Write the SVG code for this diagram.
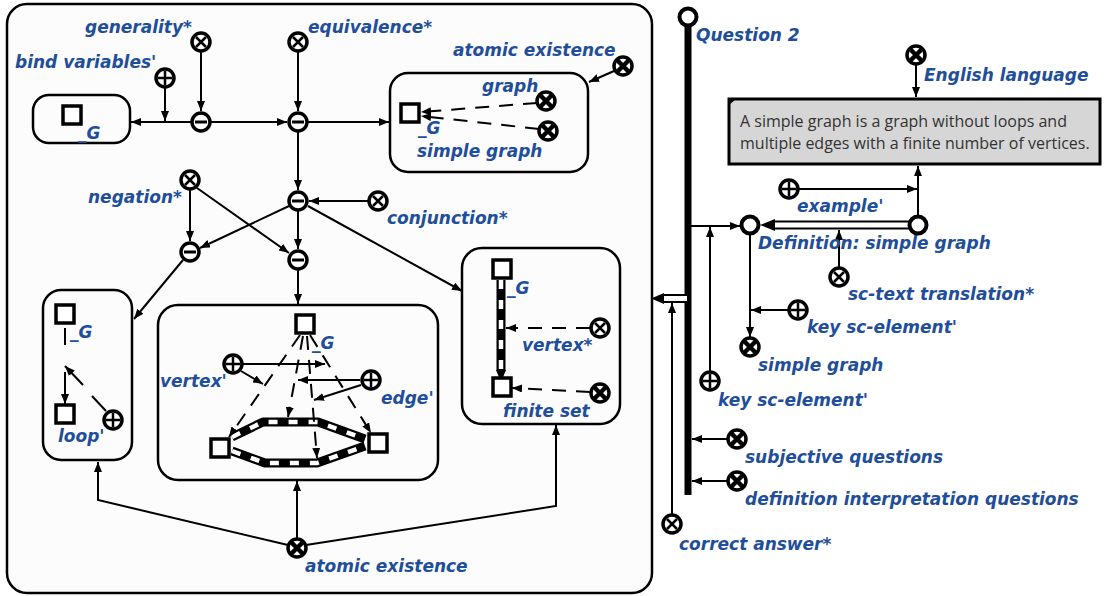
<svg xmlns="http://www.w3.org/2000/svg" width="1105" height="596" viewBox="0 0 1105 596">
<style>
.lbl{font-family:"DejaVu Sans","Liberation Sans",sans-serif;font-weight:bold;font-style:italic;font-size:17px;fill:#1f4e9b}
.ln{stroke:#000;stroke-width:2;fill:none}
.ds{stroke-dasharray:14 10}
.box{fill:#fcfcfc;stroke:#000;stroke-width:2.5}
.nd{fill:#fff;stroke:#000;stroke-width:3.5}
.sbk{stroke:#000;stroke-width:9;fill:none;stroke-linejoin:round}
.swh{stroke:#fff;stroke-width:4.5;fill:none;stroke-dasharray:9 11}
.txt{font-family:"Open Sans","Noto Sans",sans-serif;font-size:16px;fill:#333}
</style>
<defs>
<marker id="ah" viewBox="0 0 10 8" refX="10" refY="4" markerWidth="10" markerHeight="8" markerUnits="userSpaceOnUse" orient="auto"><path d="M0,0L10,4L0,8z" fill="#000"/></marker>
<g id="tuple"><circle r="9" class="nd"/><line x1="-6" y1="0" x2="6" y2="0" stroke="#000" stroke-width="3"/></g>
<g id="nrel"><circle r="9" class="nd"/><path d="M-5,-5L5,5M5,-5L-5,5" stroke="#000" stroke-width="2.5"/></g>
<g id="cls"><circle r="9" class="nd"/><path d="M-6,-6L6,6M6,-6L-6,6" stroke="#000" stroke-width="4.5"/></g>
<g id="role"><circle r="9" class="nd"/><path d="M-7,0H7M0,-7V7" stroke="#000" stroke-width="2.5"/></g>
<g id="var"><rect x="-9" y="-9" width="18" height="18" fill="#fff" stroke="#000" stroke-width="3.5"/></g>
<g id="ring"><circle r="8.5" fill="#fff" stroke="#000" stroke-width="4"/></g>
</defs>
<rect width="1105" height="596" fill="#fff"/>

<g id="main-box"><rect x="7" y="4" width="645" height="589" rx="20" class="box" stroke-width="3"/></g>
<g id="box-left"><rect x="33" y="95" width="97" height="48" rx="16" class="box"/></g>
<g id="box-top"><rect x="390" y="73" width="198" height="99" rx="18" class="box"/></g>
<g id="box-loop"><rect x="43" y="290" width="89" height="170" rx="18" class="box"/></g>
<g id="box-mid"><rect x="158" y="305" width="280" height="175" rx="20" class="box"/></g>
<g id="box-finite"><rect x="462" y="248" width="158" height="176" rx="20" class="box"/></g>
<g id="text-box"><rect x="729" y="99" width="371" height="65" fill="#d6d6d6" stroke="#000" stroke-width="3"/><path d="M729,99h7l-7,6z" fill="#000"/>
<text class="txt" x="740" y="127">A simple graph is a graph without loops and</text>
<text class="txt" x="740" y="149">multiple edges with a finite number of vertices.</text></g>

<g id="connectors">
<line class="ln" x1="201" y1="52" x2="201" y2="111" marker-end="url(#ah)"/>
<line class="ln" x1="298" y1="52" x2="298" y2="111" marker-end="url(#ah)"/>
<line class="ln" x1="165" y1="88" x2="165" y2="121" marker-end="url(#ah)"/>
<line class="ln" x1="191" y1="122" x2="131" y2="122" marker-end="url(#ah)"/>
<line class="ln" x1="211" y1="122" x2="287" y2="122" marker-end="url(#ah)"/>
<line class="ln" x1="308" y1="122" x2="389" y2="122" marker-end="url(#ah)"/>
<line class="ln" x1="298" y1="132" x2="298" y2="190" marker-end="url(#ah)"/>
<line class="ln" x1="614" y1="71" x2="589" y2="82" marker-end="url(#ah)"/>
<line class="ln ds" x1="537" y1="103" x2="421" y2="112" marker-end="url(#ah)"/>
<line class="ln ds" x1="539" y1="129" x2="421" y2="116" marker-end="url(#ah)"/>
<line class="ln" x1="368" y1="201" x2="309" y2="201" marker-end="url(#ah)"/>
<line class="ln" x1="190" y1="190" x2="190" y2="241" marker-end="url(#ah)"/>
<line class="ln" x1="197" y1="188" x2="289" y2="253" marker-end="url(#ah)"/>
<line class="ln" x1="289" y1="206" x2="200" y2="248" marker-end="url(#ah)"/>
<line class="ln" x1="298" y1="211" x2="298" y2="249" marker-end="url(#ah)"/>
<line class="ln" x1="308" y1="206" x2="462" y2="291" marker-end="url(#ah)"/>
<line class="ln" x1="183" y1="260" x2="134" y2="319" marker-end="url(#ah)"/>
<line class="ln" x1="298" y1="270" x2="298" y2="304" marker-end="url(#ah)"/>
<line class="ln" x1="65" y1="328" x2="65" y2="345"/>
<line class="ln" x1="65" y1="372" x2="65" y2="404" marker-end="url(#ah)"/>
<line class="ln" x1="106" y1="411" x2="92" y2="396"/>
<line class="ln" x1="83" y1="385" x2="65" y2="366" marker-end="url(#ah)"/>
<path class="sbk" d="M232,437L263,422L318,422L365,439"/>
<path class="swh" d="M232,437L263,422L318,422L365,439"/>
<path class="sbk" d="M232,451L265,463L317,463L365,446"/>
<path class="swh" d="M232,451L265,463L317,463L365,446"/>
<line class="ln ds" x1="300" y1="335" x2="229" y2="437" marker-end="url(#ah)"/>
<line class="ln ds" x1="303" y1="336" x2="288" y2="417" marker-end="url(#ah)"/>
<line class="ln ds" x1="307" y1="336" x2="317" y2="458" marker-end="url(#ah)"/>
<line class="ln ds" x1="310" y1="335" x2="371" y2="433" marker-end="url(#ah)"/>
<line class="ln" x1="242" y1="364" x2="325" y2="364" marker-end="url(#ah)"/>
<line class="ln" x1="241" y1="371" x2="263" y2="384" marker-end="url(#ah)"/>
<line class="ln" x1="360" y1="380" x2="298" y2="380" marker-end="url(#ah)"/>
<line class="ln" x1="361" y1="385" x2="314" y2="400" marker-end="url(#ah)"/>
<path class="sbk" d="M501,280V371"/>
<path class="swh" d="M501,280V371"/>
<path d="M496,370L506,370L501,382z" fill="#000"/>
<line class="ln ds" x1="590" y1="328" x2="506" y2="328" marker-end="url(#ah)"/>
<line class="ln ds" x1="590" y1="392" x2="512" y2="388" marker-end="url(#ah)"/>
<polyline class="ln" points="288,545 98,500 98,462" marker-end="url(#ah)"/>
<line class="ln" x1="297" y1="538" x2="297" y2="481" marker-end="url(#ah)"/>
<polyline class="ln" points="306,545 556,506 556,425" marker-end="url(#ah)"/>
<line x1="688" y1="25" x2="688" y2="495" stroke="#000" stroke-width="7"/>
<rect x="663" y="295" width="25" height="7" fill="#fff" stroke="#000" stroke-width="2"/>
<path d="M651,298.5L664,293L664,304z" fill="#000"/>
<line class="ln" x1="672" y1="514" x2="672" y2="303" marker-end="url(#ah)"/>
<line class="ln" x1="691" y1="226" x2="740" y2="226" marker-end="url(#ah)"/>
<line class="ln" x1="710" y1="371" x2="710" y2="227" marker-end="url(#ah)"/>
<line class="ln" x1="916" y1="65" x2="916" y2="97" marker-end="url(#ah)"/>
<line class="ln" x1="918" y1="216" x2="918" y2="166" marker-end="url(#ah)"/>
<line class="ln" x1="799" y1="189" x2="917" y2="189" marker-end="url(#ah)"/>
<rect x="773" y="221.5" width="137" height="7" fill="#fff" stroke="#000" stroke-width="2"/>
<path d="M760,225L775,219L775,231z" fill="#000"/>
<line class="ln" x1="839" y1="267" x2="839" y2="230" marker-end="url(#ah)"/>
<line class="ln" x1="750" y1="234" x2="750" y2="337" marker-end="url(#ah)"/>
<line class="ln" x1="788" y1="310" x2="751" y2="310" marker-end="url(#ah)"/>
<line class="ln" x1="727" y1="439" x2="692" y2="439" marker-end="url(#ah)"/>
<line class="ln" x1="727" y1="481" x2="692" y2="481" marker-end="url(#ah)"/>
</g>

<g id="n-generality"><use href="#nrel" x="201" y="42"/><text class="lbl" x="85" y="33">generality*</text></g>
<g id="n-equivalence"><use href="#nrel" x="298" y="42"/><text class="lbl" x="308" y="33">equivalence*</text></g>
<g id="n-bind"><use href="#role" x="165" y="78"/><text class="lbl" x="15" y="68">bind variables'</text></g>
<g id="n-t1"><use href="#tuple" x="201" y="122"/></g>
<g id="n-t2"><use href="#tuple" x="298" y="122"/></g>
<g id="n-g1"><use href="#var" x="72" y="115"/><text class="lbl" x="78" y="139">_G</text></g>
<g id="n-g2"><use href="#var" x="410" y="113"/><text class="lbl" x="418" y="134">_G</text></g>
<g id="n-atomic1"><use href="#cls" x="623" y="66"/><text class="lbl" x="453" y="56">atomic existence</text></g>
<g id="n-graph"><use href="#cls" x="546" y="101"/><text class="lbl" x="482" y="92">graph</text></g>
<g id="n-simple1"><use href="#cls" x="548" y="131"/><text class="lbl" x="417" y="157">simple graph</text></g>
<g id="n-hub"><use href="#tuple" x="298" y="201"/></g>
<g id="n-conj"><use href="#nrel" x="378" y="201"/><text class="lbl" x="387" y="224">conjunction*</text></g>
<g id="n-neg"><use href="#nrel" x="190" y="180"/><text class="lbl" x="88" y="203">negation*</text></g>
<g id="n-ta"><use href="#tuple" x="190" y="252"/></g>
<g id="n-tb"><use href="#tuple" x="298" y="260"/></g>
<g id="n-loopG"><use href="#var" x="65" y="314"/><text class="lbl" x="70" y="338">_G</text></g>
<g id="n-loopV"><use href="#var" x="65" y="414"/></g>
<g id="n-loop"><use href="#role" x="113" y="420"/><text class="lbl" x="58" y="442">loop'</text></g>
<g id="n-midG"><use href="#var" x="305" y="324"/><text class="lbl" x="312" y="349">_G</text></g>
<g id="n-vertex"><use href="#role" x="233" y="364"/><text class="lbl" x="160" y="387">vertex'</text></g>
<g id="n-edge"><use href="#role" x="371" y="380"/><text class="lbl" x="381" y="404">edge'</text></g>
<g id="n-v1"><use href="#var" x="220" y="448"/></g>
<g id="n-v2"><use href="#var" x="378" y="443"/></g>
<g id="n-finG"><use href="#var" x="502" y="269"/><text class="lbl" x="507" y="294">_G</text></g>
<g id="n-finV"><use href="#var" x="502" y="387"/></g>
<g id="n-vertexs"><use href="#nrel" x="600" y="328"/><text class="lbl" x="522" y="351">vertex*</text></g>
<g id="n-finite"><use href="#cls" x="600" y="393"/><text class="lbl" x="503" y="417">finite set</text></g>
<g id="n-atomic2"><use href="#cls" x="297" y="548"/><text class="lbl" x="305" y="572">atomic existence</text></g>
<g id="n-question"><use href="#ring" x="688" y="17"/><text class="lbl" x="696" y="41">Question 2</text></g>
<g id="n-english"><use href="#cls" x="916" y="55"/><text class="lbl" x="924" y="81">English language</text></g>
<g id="n-example"><use href="#role" x="789" y="189"/><text class="lbl" x="797" y="212">example'</text></g>
<g id="n-def"><use href="#ring" x="750" y="225"/><text class="lbl" x="758" y="249">Definition: simple graph</text></g>
<g id="n-link"><use href="#ring" x="918" y="225"/></g>
<g id="n-transl"><use href="#nrel" x="839" y="277"/><text class="lbl" x="848" y="300">sc-text translation*</text></g>
<g id="n-key1"><use href="#role" x="798" y="310"/><text class="lbl" x="807" y="333">key sc-element'</text></g>
<g id="n-simple2"><use href="#cls" x="750" y="347"/><text class="lbl" x="758" y="371">simple graph</text></g>
<g id="n-key2"><use href="#role" x="710" y="381"/><text class="lbl" x="718" y="406">key sc-element'</text></g>
<g id="n-subj"><use href="#cls" x="737" y="439"/><text class="lbl" x="745" y="463">subjective questions</text></g>
<g id="n-defint"><use href="#cls" x="737" y="481"/><text class="lbl" x="745" y="505">definition interpretation questions</text></g>
<g id="n-correct"><use href="#nrel" x="672" y="524"/><text class="lbl" x="679" y="550">correct answer*</text></g>
</svg>
